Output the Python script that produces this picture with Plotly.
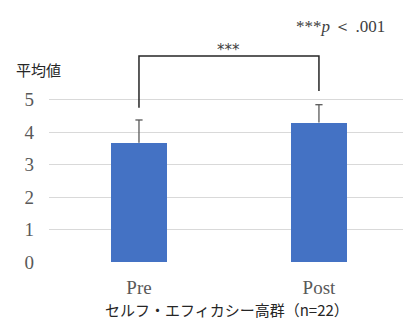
import plotly.graph_objects as go

categories = ["Pre", "Post"]
means = [3.67, 4.29]
errors = [0.70, 0.55]
y_ticks = [0, 1, 2, 3, 4, 5]
x_title = "セルフ・エフィカシー高群（n=22）"
y_title = "平均値"
sig_label = "***"
note_label = "***<i>p</i> ＜ .001"
bracket_y = 6.34
bracket_left_bottom = 4.75
bracket_right_bottom = 5.26

positions = list(range(len(categories)))
cap = 0.02

fig = go.Figure()
fig.add_trace(go.Bar(
    x=positions, y=means, width=0.31,
    marker=dict(color="#4472C4", line=dict(width=0)),
))
# upper-only error bars
ex, ey = [], []
for p, m, e in zip(positions, means, errors):
    ex += [p, p, None, p - cap, p + cap, None]
    ey += [m, m + e, None, m + e, m + e, None]
fig.add_trace(go.Scatter(x=ex, y=ey, mode="lines",
                         line=dict(color="#595959", width=1.3), hoverinfo="skip"))
fig.add_trace(go.Scatter(
    x=[0, 0, 1, 1],
    y=[bracket_left_bottom, bracket_y, bracket_y, bracket_right_bottom],
    mode="lines", line=dict(color="#262626", width=1.5), hoverinfo="skip",
))

fig.update_layout(
    width=403, height=320,
    margin=dict(l=49, r=0, t=2, b=58),
    paper_bgcolor="white", plot_bgcolor="white",
    showlegend=False, bargap=0,
    xaxis=dict(range=[-0.5, 1.467], tickvals=positions, ticktext=categories,
               showgrid=False, zeroline=False, showline=False,
               tickfont=dict(family="Liberation Serif", size=19, color="#595959"),
               ticklabelstandoff=12),
    yaxis=dict(range=[0, 8], tickvals=y_ticks, showgrid=True,
               gridcolor="#D9D9D9", gridwidth=1.2, zeroline=False, showline=False,
               tickfont=dict(family="Liberation Serif", size=19, color="#595959"),
               ticklabelstandoff=14),
    annotations=[
        dict(x=0.5, y=bracket_y, xref="x", yref="y", text=sig_label, showarrow=False,
             yanchor="bottom", yshift=-5,
             font=dict(family="DejaVu Sans", size=15, color="#404040")),
        dict(x=(340 - 49) / 354, y=(262 - 26) / 260, xref="paper", yref="paper",
             xanchor="center", yanchor="middle",
             text=note_label, showarrow=False,
             font=dict(family="Liberation Serif", size=17, color="#404040")),
        dict(x=-0.5, y=5, xref="x", yref="y", text=y_title, showarrow=False,
             xshift=-35, yshift=30, xanchor="left",
             font=dict(family="Noto Sans CJK JP", size=15, color="#262626")),
        dict(x=0.5, y=0, xref="x", yref="y", text=x_title, showarrow=False,
             xshift=-2, yshift=-47, borderpad=0,
             font=dict(family="Noto Sans CJK JP", size=15, color="#262626")),
    ],
)
fig.write_html("out.html")
